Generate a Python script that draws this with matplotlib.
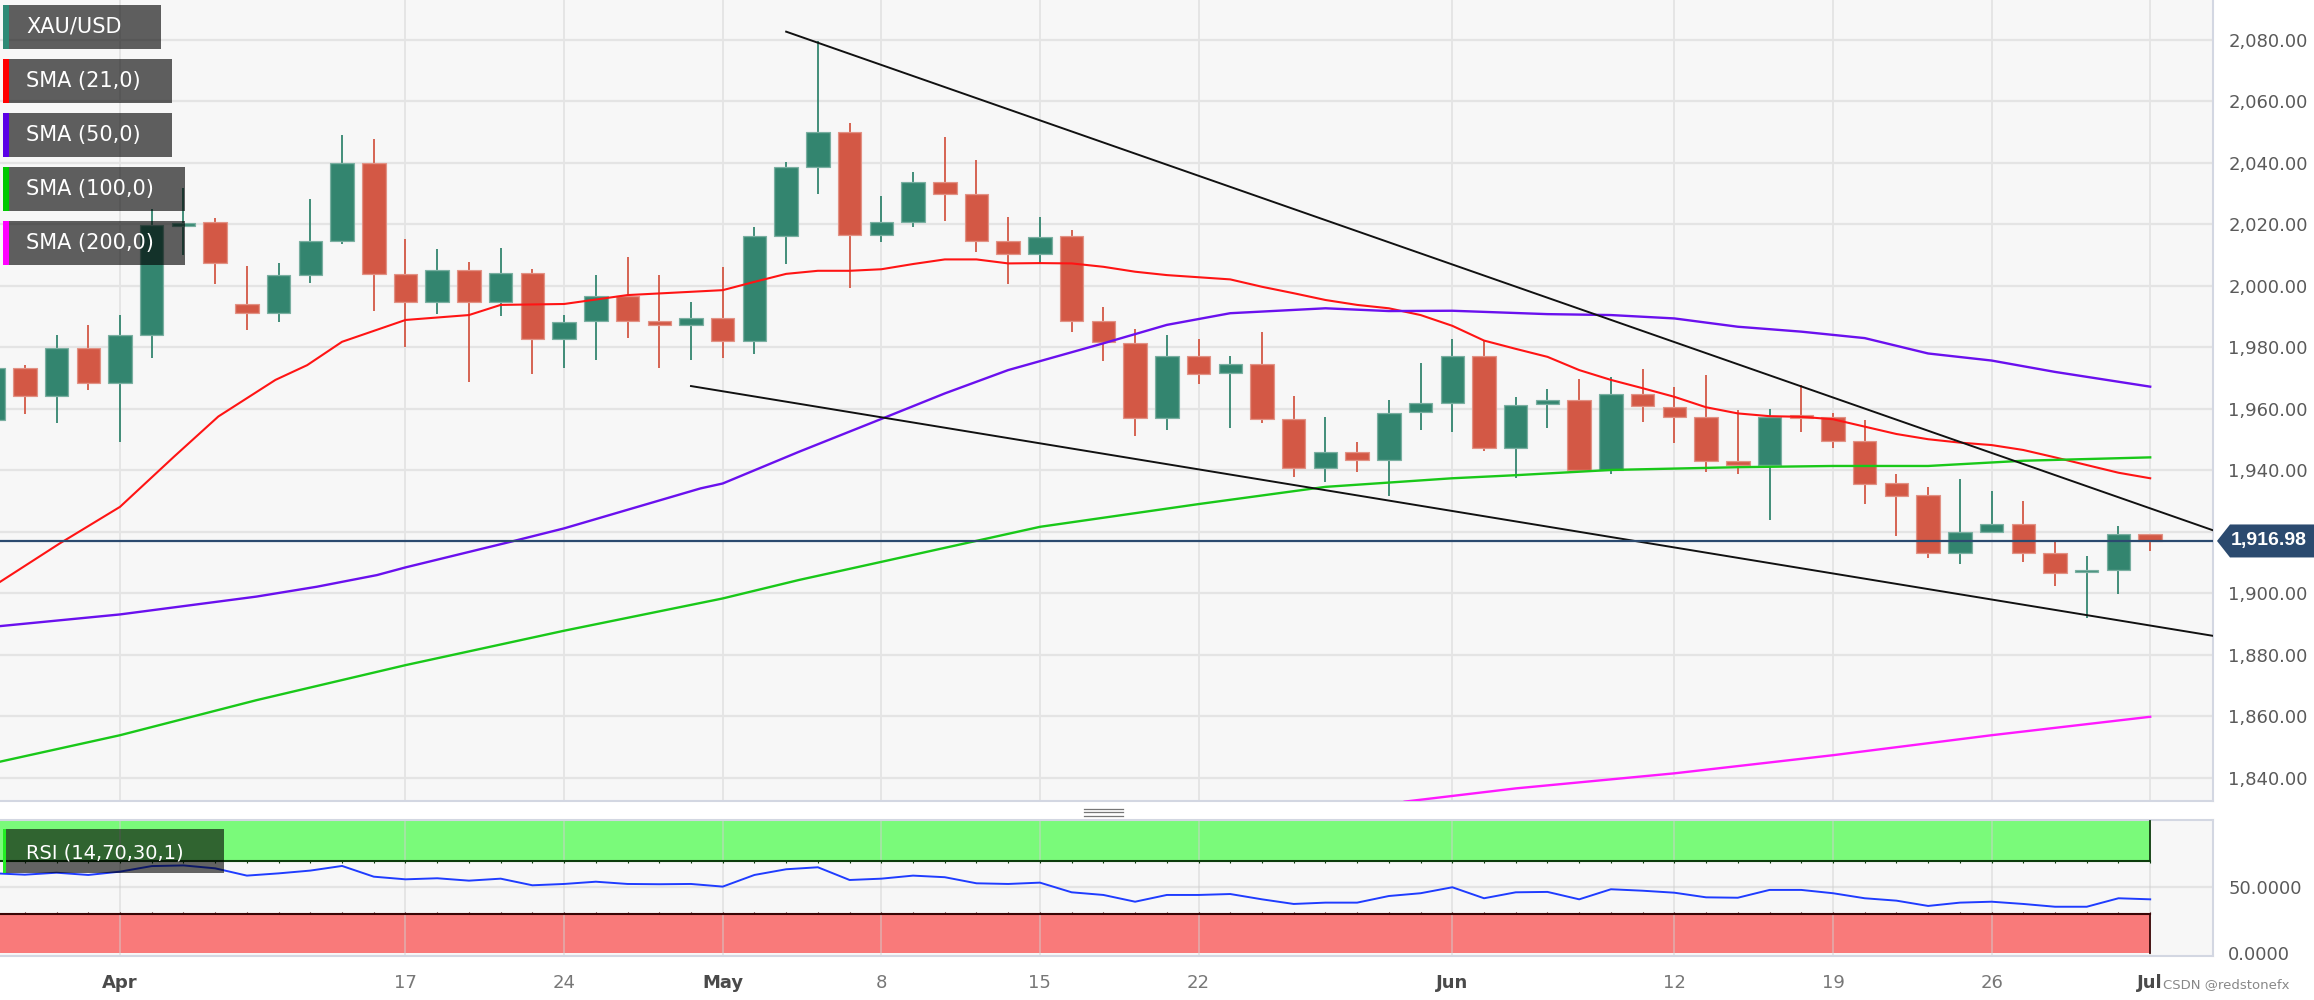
import matplotlib
matplotlib.use('Agg')
import matplotlib.pyplot as plt
from matplotlib.patches import Rectangle, Polygon
from matplotlib.lines import Line2D

W, H = 2314, 1000

# trading-day index, 0 = Apr 3 2023 (Good Friday has no candle)
idx = list(range(-4, 65))
opens = [1956.3, 1973.2, 1964.2, 1979.9, 1968.5, 1984.0, 2019.5, 2020.8, 1994.1, 1991.1,
         2003.4, 2014.6, 2039.9, 2003.9, 1994.8, 2005.0, 1994.8, 2004.3, 1982.6, 1988.7,
         1996.8, 1988.6, 1987.3, 1989.4, 1982.1, 2016.2, 2038.8, 2050.0, 2016.4, 2020.9,
         2033.9, 2029.8, 2014.6, 2010.4, 2016.2, 1988.7, 1981.5, 1957.1, 1977.3, 1971.5,
         1974.6, 1956.6, 1940.6, 1946.0, 1943.3, 1958.8, 1962.0, 1977.3, 1947.1, 1961.4,
         1963.0, 1940.1, 1964.8, 1960.5, 1957.2, 1943.1, 1941.7, 1958.0, 1957.2, 1949.5,
         1935.7, 1931.9, 1913.2, 1920.0, 1922.5, 1913.0, 1906.8, 1907.5, 1919.2]
highs = [1975.0, 1974.3, 1984.0, 1987.3, 1990.5, 2024.9, 2031.7, 2022.1, 2006.6, 2007.3,
         2028.2, 2049.1, 2047.7, 2015.1, 2011.9, 2007.9, 2012.4, 2005.4, 1990.5, 2003.4,
         2009.3, 2003.4, 1994.8, 2006.2, 2019.0, 2040.4, 2079.5, 2052.9, 2029.3, 2037.1,
         2048.3, 2041.0, 2022.3, 2022.3, 2018.2, 1993.0, 1985.9, 1984.0, 1982.6, 1977.3,
         1985.1, 1964.2, 1957.2, 1949.3, 1963.0, 1974.8, 1982.6, 1982.3, 1963.7, 1966.3,
         1969.6, 1970.2, 1972.8, 1967.0, 1971.0, 1959.6, 1959.8, 1967.7, 1958.5, 1956.3,
         1938.8, 1934.4, 1937.1, 1933.2, 1930.0, 1916.7, 1912.1, 1921.9, 1919.2]
lows = [1954.0, 1958.2, 1955.3, 1966.1, 1949.3, 1976.4, 2010.0, 2000.6, 1985.6, 1988.3,
        2001.0, 2013.5, 1991.9, 1980.2, 1990.7, 1968.8, 1990.2, 1971.3, 1973.2, 1975.9,
        1983.0, 1973.2, 1975.9, 1976.4, 1977.8, 2007.1, 2029.9, 1999.2, 2014.2, 2019.2,
        2021.2, 2010.9, 2000.6, 2007.5, 1984.9, 1975.6, 1951.1, 1953.1, 1968.1, 1953.6,
        1955.5, 1937.9, 1936.3, 1939.6, 1931.6, 1953.1, 1952.5, 1946.4, 1937.4, 1953.6,
        1939.6, 1938.8, 1955.8, 1948.8, 1939.6, 1938.7, 1923.8, 1952.5, 1947.1, 1929.0,
        1918.6, 1911.3, 1909.5, 1920.0, 1910.2, 1902.3, 1891.8, 1899.7, 1913.8]
closes = [1973.2, 1964.2, 1979.9, 1968.5, 1984.0, 2019.8, 2020.5, 2007.5, 1991.1, 2003.4,
          2014.5, 2039.9, 2003.9, 1994.8, 2005.0, 1994.8, 2004.3, 1982.6, 1988.3, 1996.8,
          1988.7, 1987.3, 1989.4, 1982.1, 2016.2, 2038.6, 2050.0, 2016.4, 2020.9, 2033.9,
          2029.8, 2014.7, 2010.4, 2016.0, 1988.7, 1981.6, 1957.1, 1977.3, 1971.3, 1974.6,
          1956.6, 1940.6, 1946.0, 1943.3, 1958.5, 1962.0, 1977.3, 1947.1, 1961.2, 1962.8,
          1940.1, 1964.8, 1960.9, 1957.4, 1943.1, 1941.7, 1957.2, 1957.0, 1949.5, 1935.5,
          1931.6, 1913.2, 1920.0, 1922.5, 1913.0, 1906.7, 1907.5, 1919.2, 1916.98]
last_price = 1916.98

sma21_x = [-3.78, -1.9, 0, 1.7, 3.1, 4.9, 5.9, 7, 9, 11, 12, 14, 16, 19, 20, 21, 22, 23, 24,
           25, 26, 27, 28, 29, 30, 31, 32, 33, 34, 35, 36, 37, 38, 39, 40, 41, 42, 43, 44,
           45, 46, 47, 48, 49, 50, 51, 52, 53, 54, 55, 56, 57, 58, 59, 60, 61, 62, 63, 64]
sma21 = [1903.7, 1916.2, 1928.1, 1944.4, 1957.5, 1969.4, 1974.2, 1981.8, 1988.9, 1990.5,
         1993.8, 1994.1, 1997.0, 1998.6, 2001.3, 2003.9, 2004.9, 2004.9, 2005.4, 2007.1,
         2008.6, 2008.6, 2007.3, 2007.4, 2007.3, 2006.2, 2004.6, 2003.5, 2002.8, 2002.1,
         1999.7, 1997.6, 1995.4, 1993.8, 1992.7, 1990.5, 1987.0, 1982.2, 1979.5, 1976.9,
         1972.6, 1969.4, 1966.7, 1963.9, 1960.5, 1958.5, 1957.6, 1957.4, 1956.6, 1954.2,
         1951.8, 1950.1, 1949.0, 1948.2, 1946.6, 1944.2, 1941.7, 1939.2, 1937.4]

sma50_x = [-3.78, 0, 4.3, 6.2, 8.1, 9, 12.3, 14, 18.3, 19, 21.4, 24, 26, 28, 31, 33, 35, 38,
           40, 42, 45, 47, 49, 51, 53, 55, 57, 59, 61, 63, 64]
sma50 = [1889.3, 1893.1, 1898.9, 1902.1, 1905.9, 1908.4, 1916.7, 1921.1, 1934.1, 1935.7,
         1946.0, 1956.7, 1965.0, 1972.6, 1981.3, 1987.3, 1991.1, 1992.7, 1991.8, 1991.9,
         1990.8, 1990.5, 1989.4, 1986.7, 1985.1, 1983.0, 1978.0, 1975.7, 1972.0, 1968.8, 1967.2]

sma100_x = [-3.78, 0, 4.3, 9, 14, 19, 21.4, 24, 29, 34, 38, 42, 44, 47, 51, 54, 57, 60, 64]
sma100 = [1845.2, 1853.8, 1865.2, 1876.6, 1887.8, 1898.3, 1904.3, 1910.2, 1921.6, 1929.0,
          1934.6, 1937.4, 1938.4, 1940.1, 1941.0, 1941.4, 1941.4, 1943.1, 1944.2]

sma200_x = [40.5, 44, 49, 54, 59, 64]
sma200 = [1832.2, 1836.5, 1841.4, 1847.3, 1853.8, 1859.8]

upper_trend_x = [21.0, 66.0]
upper_trend = [2082.7, 1920.4]
lower_trend_x = [18.0, 66.0]
lower_trend = [1967.4, 1886.1]

rsi = [60.6, 59.5, 61.0, 59.3, 61.8, 66.0, 66.5, 64.3, 58.8, 60.5,
       62.6, 66.1, 58.0, 56.0, 56.8, 55.0, 56.5, 51.5, 52.5, 54.2,
       52.5, 52.3, 52.5, 50.5, 59.3, 63.6, 65.1, 55.5, 56.5, 58.8,
       57.6, 53.0, 52.5, 53.5, 46.2, 44.2, 39.1, 44.2, 44.2, 44.9,
       40.9, 37.4, 38.4, 38.4, 43.4, 45.5, 50.0, 41.7, 46.2, 46.5,
       40.9, 48.5, 47.4, 45.9, 42.4, 42.1, 48.0, 48.0, 45.5, 41.7,
       39.9, 35.9, 38.4, 39.1, 37.4, 35.3, 35.3, 41.7, 40.9]

date_ticks = [0, 9, 14, 19, 24, 29, 34, 42, 49, 54, 59, 64]
date_labels = ['Apr', '17', '24', 'May', '8', '15', '22', 'Jun', '12', '19', '26', 'Jul']
month_labels = {'Apr', 'May', 'Jun', 'Jul'}
price_ticks = [1840, 1860, 1880, 1900, 1920, 1940, 1960, 1980, 2000, 2020, 2040, 2060, 2080]

legend_items = [('XAU/USD', '#2e8a76'), ('SMA (21,0)', '#ff0000'), ('SMA (50,0)', '#5a00e6'),
                ('SMA (100,0)', '#00c800'), ('SMA (200,0)', '#ff00ff')]

GREEN = '#33856f'
RED = '#d35845'
GRID = '#e4e4e4'
BORDER = '#d3d7e2'

plt.rcParams['font.family'] = ['DejaVu Sans']

fig = plt.figure(figsize=(W / 100, H / 100), dpi=100, facecolor='white')


def fx(px):
    return px / W


def fy(py):
    return 1 - py / H


plot_r = 2213
ax = fig.add_axes([0, fy(801), fx(plot_r), 801 / H])
ax_rsi = fig.add_axes([0, fy(956), fx(plot_r), 136 / H])

xlim = (-3.783, 65.98)

# ---------------- main price panel ----------------
ax.set_facecolor('#f7f7f7')
ax.set_xlim(*xlim)
ax.set_ylim(1832.4, 2093.0)
for p in price_ticks:
    ax.axhline(p, color=GRID, lw=1.6, zorder=0)
for t in date_ticks:
    ax.axvline(t, color=GRID, lw=1.3, zorder=0)

for i, o, h, l, c in zip(idx, opens, highs, lows, closes):
    col = GREEN if c >= o else RED
    ax.vlines(i, l, h, color=col, lw=1.3, zorder=2)
    lo, hi = min(o, c), max(o, c)
    if hi - lo < 0.8:
        hi = lo + 0.8
    ax.add_patch(Rectangle((i - 0.37, lo), 0.74, hi - lo, facecolor=col,
                           edgecolor=col, lw=0.8, alpha=1.0, zorder=3))
    ax.add_patch(Rectangle((i - 0.37, lo), 0.74, hi - lo, facecolor='none',
                           edgecolor='white', lw=1.0, alpha=0.35, zorder=3))

ax.plot(sma21_x, sma21, color='#ff1414', lw=1.5, zorder=4)
ax.plot(sma50_x, sma50, color='#6a10ee', lw=1.7, zorder=4)
ax.plot(sma100_x, sma100, color='#19c819', lw=1.7, zorder=4)
ax.plot(sma200_x, sma200, color='#ff19ff', lw=1.7, zorder=4)
ax.plot(upper_trend_x, upper_trend, color='#111111', lw=1.4, zorder=5)
ax.plot(lower_trend_x, lower_trend, color='#111111', lw=1.4, zorder=5)
ax.axhline(last_price, color='#2b4a6f', lw=1.6, zorder=6)

ax.set_xticks([])
ax.yaxis.tick_right()
ax.set_yticks(price_ticks)
ax.set_yticklabels(['' if p == 1920 else f'{p:,.2f}' for p in price_ticks])
ax.tick_params(axis='y', length=0, pad=11, labelsize=13, labelcolor='#5a5a5a')
for s in ['left', 'top']:
    ax.spines[s].set_visible(False)
ax.spines['right'].set_color(BORDER)
ax.spines['bottom'].set_color(BORDER)
ax.spines['right'].set_linewidth(1.5)
ax.spines['bottom'].set_linewidth(1.5)

# ---------------- RSI panel ----------------
ax_rsi.set_facecolor('#f7f7f7')
ax_rsi.set_xlim(*xlim)
ax_rsi.set_ylim(-1.9, 100.8)
ax_rsi.axhline(50, color=GRID, lw=1.6, zorder=0)
band_x = [xlim[0], 64]
ax_rsi.fill_between(band_x, 70, 100, color='#7afa7a', lw=0, zorder=1)
ax_rsi.fill_between(band_x, 0, 30, color='#f97a7a', lw=0, zorder=1)
for t in date_ticks:
    ax_rsi.axvline(t, color='#d0d0d0', lw=1.2, alpha=0.55, zorder=2)
ax_rsi.plot(band_x, [70, 70], color='#0d3d0d', lw=1.5, zorder=3)
ax_rsi.plot(band_x, [30, 30], color='#3a0505', lw=1.5, zorder=3)
ax_rsi.plot([64, 64], [70, 100], color='#0d3d0d', lw=1.3, zorder=3)
ax_rsi.plot([64, 64], [0, 30], color='#3a0505', lw=1.3, zorder=3)
ax_rsi.vlines(idx, 68.6, 70, color='#0d3d0d', lw=0.8, zorder=3)
ax_rsi.vlines(idx, 30, 31.4, color='#3a0505', lw=0.8, zorder=3)
ax_rsi.plot(idx, rsi, color='#1f3cff', lw=1.4, zorder=4)

ax_rsi.yaxis.tick_right()
ax_rsi.set_yticks([0, 50])
ax_rsi.set_yticklabels(['0.0000', '50.0000'])
ax_rsi.tick_params(axis='y', length=0, pad=11, labelsize=13, labelcolor='#5a5a5a')
ax_rsi.set_xticks(date_ticks)
ax_rsi.set_xticklabels(date_labels)
ax_rsi.tick_params(axis='x', length=0, pad=13, labelsize=13)
for lab in ax_rsi.get_xticklabels():
    if lab.get_text() in month_labels:
        lab.set_color('#4a4a4a')
        lab.set_fontweight('bold')
    else:
        lab.set_color('#777777')
for s in ['left']:
    ax_rsi.spines[s].set_visible(False)
for s in ['right', 'top', 'bottom']:
    ax_rsi.spines[s].set_color(BORDER)
    ax_rsi.spines[s].set_linewidth(1.5)

# ---------------- overlays in pixel space ----------------
def box(x0, y0, x1, y1, **kw):
    fig.patches.append(Rectangle((fx(x0), fy(y1)), fx(x1 - x0), (y1 - y0) / H,
                                 transform=fig.transFigure, **kw))


legend_rows = [(5, 49, 161), (59, 103, 172), (113, 157, 172), (167, 211, 185), (221, 265, 185)]
for (name, col), (y0, y1, x1) in zip(legend_items, legend_rows):
    box(3, y0, x1, y1, facecolor='black', alpha=0.62, lw=0, zorder=10)
    box(3, y0, 9, y1, facecolor=col, lw=0, zorder=11)
    fig.text(fx(26), fy((y0 + y1) / 2), name, color='white', fontsize=15,
             va='center', ha='left', zorder=12)

box(4, 829, 224, 873, facecolor='black', alpha=0.6, lw=0, zorder=10)
box(3, 829, 6, 873, facecolor='#22ee22', lw=0, zorder=11)
fig.text(fx(26), fy(853), 'RSI (14,70,30,1)', color='white', fontsize=14,
         va='center', ha='left', zorder=12)

# current price tag
yp = 40 + (2080 - last_price) * 3.073
tag = Polygon([(fx(2217), fy(yp)), (fx(2230), fy(yp - 16.5)), (fx(2314), fy(yp - 16.5)),
               (fx(2314), fy(yp + 16.5)), (fx(2230), fy(yp + 16.5))],
              closed=True, transform=fig.transFigure, facecolor='#2b4a6f', lw=0, zorder=10)
fig.patches.append(tag)
fig.text(fx(2231), fy(yp), f'{last_price:,.2f}', color='white', fontsize=14,
         fontweight='bold', family=['Liberation Sans', 'DejaVu Sans'],
         va='center', ha='left', zorder=11)

# panel splitter handle
for yy in (808.5, 812, 815.5):
    fig.lines.append(Line2D([fx(1084), fx(1123)], [fy(yy), fy(yy)], color='#777777',
                            lw=0.9, transform=fig.transFigure))

fig.text(fx(2163), fy(985), 'CSDN @redstonefx', color='#888888', fontsize=9.5,
         va='center', ha='left')

fig.savefig('out.png', dpi=100, facecolor='white')
